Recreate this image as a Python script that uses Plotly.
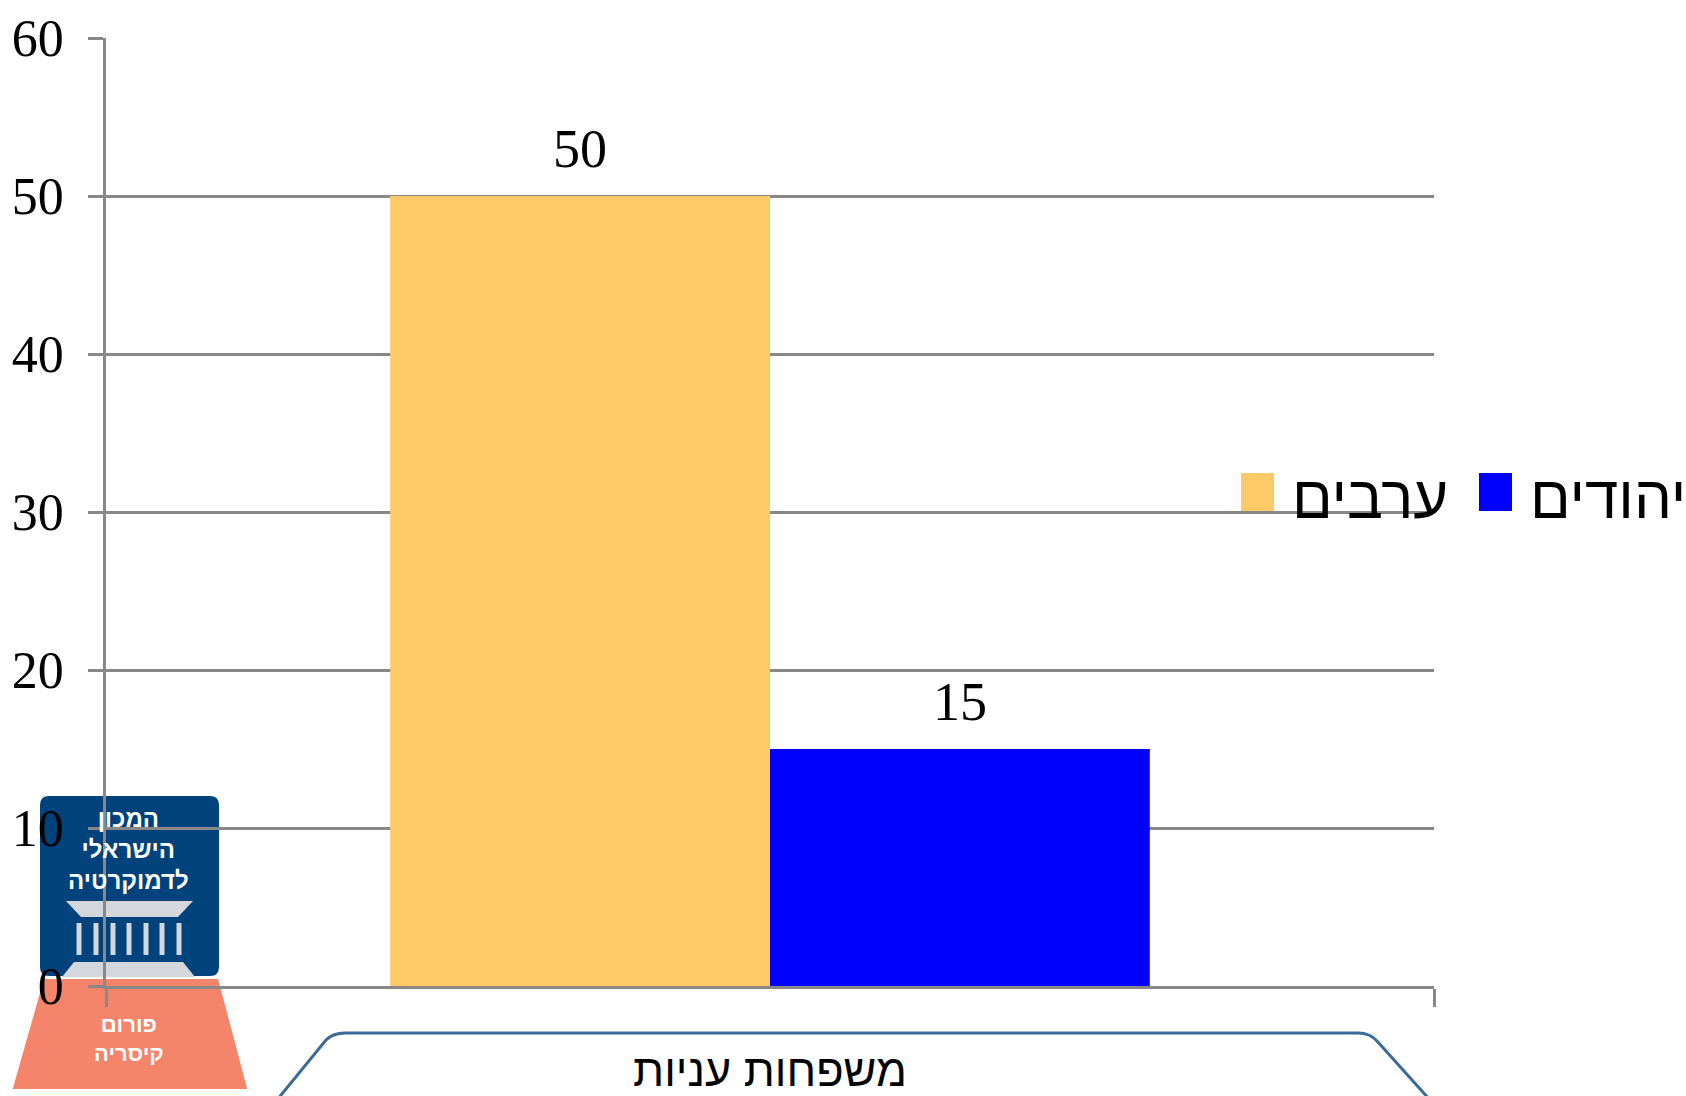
import plotly.graph_objects as go

# ---- data ----
categories = ["משפחות עניות"]
series_names = ["ערבים", "יהודים"]
arab_values = [50]
jewish_values = [15]
series_values = [arab_values, jewish_values]
series_colors = ["#FDCA67", "#0000FF"]
y_ticks = [0, 10, 20, 30, 40, 50, 60]
logo_top_lines = ["המכון", "הישראלי", "לדמוקרטיה"]
logo_bottom_lines = ["פורום", "קיסריה"]

# ---- layout geometry (pixels) ----
W, H = 1686, 1096
ML, MR, MT, MB = 106, 252, 38, 110
PW, PH = W - ML - MR, H - MT - MB
GRID = "#888888"
SERIF = "Liberation Serif, Times New Roman, serif"
SANS = "Liberation Sans, DejaVu Sans, Arial, sans-serif"
BARGAP = 0.428


def px(x):
    return (x - ML) / PW


def py(y):
    return (H - MB - y) / PH


fig = go.Figure()
for name, vals, col in zip(series_names, series_values, series_colors):
    fig.add_trace(go.Bar(
        x=categories, y=vals, name=name, marker=dict(color=col, line=dict(width=0)),
        showlegend=False,
    ))

shapes = []
annotations = []

# value labels above bars (positioned through the axes)
n_series = len(series_values)
slot = (1 - BARGAP) / n_series
for si, vals in enumerate(series_values):
    for ci, v in enumerate(vals):
        annotations.append(dict(xref="x", yref="y", x=ci - (1 - BARGAP) / 2 + slot * (si + 0.5), y=v,
                                text=str(v), showarrow=False, yanchor="middle", yshift=47,
                                font=dict(family=SERIF, size=54, color="black")))


def rounded_rect(x0, y0, x1, y1, r):
    return (f"M {px(x0+r)},{py(y0)} L {px(x1-r)},{py(y0)} Q {px(x1)},{py(y0)} {px(x1)},{py(y0+r)} "
            f"L {px(x1)},{py(y1-r)} Q {px(x1)},{py(y1)} {px(x1-r)},{py(y1)} "
            f"L {px(x0+r)},{py(y1)} Q {px(x0)},{py(y1)} {px(x0)},{py(y1-r)} "
            f"L {px(x0)},{py(y0+r)} Q {px(x0)},{py(y0)} {px(x0+r)},{py(y0)} Z")


def poly(pts):
    return "M " + " L ".join(f"{px(a)},{py(b)}" for a, b in pts) + " Z"


base = dict(xref="paper", yref="paper", type="path", layer="below")
# decorative logo
shapes.append(dict(base, path=rounded_rect(40, 796, 219, 976, 9), fillcolor="#00427C", line=dict(width=0)))
shapes.append(dict(base, path=poly([(66, 901), (193, 901), (178, 917), (81, 917)]), fillcolor="#D4D7DB", line=dict(width=0)))
for cx in [79, 96, 113, 129, 146, 162, 179]:
    shapes.append(dict(base, path=poly([(cx - 2.5, 923), (cx + 2.5, 923), (cx + 2.5, 955), (cx - 2.5, 955)]),
                       fillcolor="#D4D7DB", line=dict(width=0)))
shapes.append(dict(base, path=poly([(74, 962), (183, 962), (195, 977), (62, 977)]), fillcolor="#D4D7DB", line=dict(width=0)))
shapes.append(dict(base, path=poly([(47, 983), (215, 983), (242, 1085), (18, 1085)]), fillcolor="#F4856A",
                   line=dict(color="#F4856A", width=8)))
# category frame
shapes.append(dict(base, path=(f"M {px(277)},{py(1100)} L {px(326)},{py(1040)} Q {px(333)},{py(1033)} {px(345)},{py(1033)} "
                               f"L {px(1358)},{py(1033)} Q {px(1370)},{py(1033)} {px(1377)},{py(1041)} L {px(1430)},{py(1100)}"),
                   line=dict(color="#3C6A99", width=3)))

annotations.append(dict(xref="paper", yref="paper", x=px(128), y=py(849),
                        text="<br>".join(f"<b>{t}</b>" for t in logo_top_lines),
                        showarrow=False, font=dict(family=SANS, size=24, color="white"),
                        xanchor="center", yanchor="middle", align="center"))
annotations.append(dict(xref="paper", yref="paper", x=px(129), y=py(1039),
                        text="<br>".join(f"<b>{t}</b>" for t in logo_bottom_lines),
                        showarrow=False, font=dict(family=SANS, size=22, color="white"),
                        xanchor="center", yanchor="middle", align="center"))

# legend (swatch + name for each series)
legend_item_x = [1241, 1479]
for name, col, lx in zip(series_names, series_colors, legend_item_x):
    shapes.append(dict(xref="paper", yref="paper", type="rect", x0=px(lx), x1=px(lx + 33),
                       y0=py(511), y1=py(473), fillcolor=col, line=dict(width=0), layer="above"))
    annotations.append(dict(xref="paper", yref="paper", x=px(lx + 49), y=py(498), text=name,
                            showarrow=False, xanchor="left", yanchor="middle",
                            font=dict(family=SANS, size=60, color="black")))

fig.update_layout(
    width=W, height=H,
    margin=dict(l=ML, r=MR, t=MT, b=MB, autoexpand=False),
    paper_bgcolor="white", plot_bgcolor="rgba(0,0,0,0)",
    barmode="group", bargap=BARGAP, bargroupgap=0,
    showlegend=False,
    shapes=shapes, annotations=annotations,
    xaxis=dict(type="category", showline=True, linecolor=GRID, linewidth=3,
               ticks="outside", tickson="boundaries", ticklen=18, tickcolor=GRID, tickwidth=3,
               tickfont=dict(family=SANS, size=45, color="black"), ticklabelstandoff=43,
               showgrid=False),
    yaxis=dict(range=[0, 60], tickvals=y_ticks, showgrid=True, gridcolor=GRID, gridwidth=3,
               showline=True, linecolor=GRID, linewidth=2.5, zeroline=False,
               ticks="outside", ticklen=15, tickcolor=GRID, tickwidth=3,
               tickfont=dict(family=SERIF, size=52, color="black"), ticklabelstandoff=14),
)

fig.write_html("out.html", config={"displayModeBar": False},
               post_script=["document.body.style.margin='0';document.body.style.overflow='hidden';"])
